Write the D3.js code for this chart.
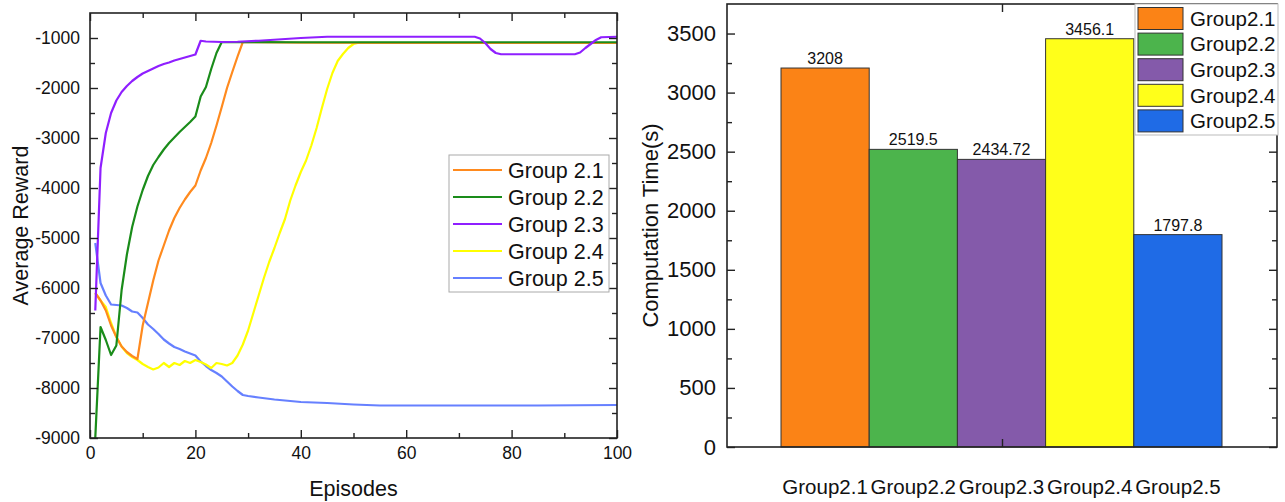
<!DOCTYPE html>
<html>
<head>
<meta charset="utf-8">
<script src="https://cdn.jsdelivr.net/npm/d3@7"></script>
<style>
  html, body { margin: 0; padding: 0; background: #fff; }
  svg { display: block; font-family: "Liberation Sans", Arial, sans-serif; }
</style>
</head>
<body>
<svg id="chart" width="1285" height="502"></svg>
<script>
// ---- Average reward per episode (left panel) ----
const ep21 = [1,2,3,4,5,6,7,8,9,10,11,12,13,14,15,16,17,18,19,20,21,22,23,24,25,26,27,28,29,40,60,80,100];
const val21 = [-6100,-6250,-6450,-6750,-6980,-7170,-7280,-7360,-7420,-6750,-6300,-5850,-5450,-5150,-4850,-4600,-4400,-4230,-4080,-3950,-3650,-3400,-3100,-2750,-2380,-2000,-1680,-1370,-1080,-1095,-1100,-1100,-1100];

const ep22 = [1,2,3,4,5,6,7,8,9,10,11,12,13,14,15,16,17,18,19,20,21,22,23,24,25,40,60,80,100];
const val22 = [-9000,-6780,-7040,-7340,-7150,-6040,-5330,-4780,-4370,-4040,-3760,-3540,-3380,-3230,-3100,-2990,-2880,-2780,-2680,-2570,-2170,-1980,-1620,-1300,-1080,-1085,-1085,-1085,-1085];

const ep23 = [1,2,3,4,5,6,7,8,9,10,11,12,13,14,15,16,17,18,19,20,21,22,25,28,32,40,45,73,74,75,76,77,78,92,93,94,95,96,97,100];
const val23 = [-6450,-3600,-2900,-2500,-2250,-2080,-1960,-1860,-1780,-1710,-1660,-1610,-1560,-1520,-1490,-1450,-1420,-1390,-1360,-1330,-1055,-1070,-1080,-1075,-1055,-1000,-975,-975,-1010,-1100,-1220,-1300,-1325,-1325,-1290,-1200,-1120,-1040,-985,-975];

const ep24 = [1,2,3,4,5,6,7,8,9,10,11,12,13,14,15,16,17,18,19,20,21,22,23,24,25,26,27,28,29,30,31,32,33,34,35,36,37,38,39,40,41,42,43,44,45,46,47,48,49,50,51,70,100];
const val24 = [-6100,-6250,-6380,-6700,-6980,-7170,-7300,-7380,-7440,-7520,-7580,-7630,-7590,-7500,-7580,-7500,-7540,-7460,-7500,-7440,-7480,-7530,-7600,-7500,-7520,-7550,-7500,-7350,-7130,-6850,-6500,-6150,-5800,-5480,-5200,-4900,-4620,-4250,-3950,-3680,-3450,-3150,-2800,-2400,-2020,-1700,-1460,-1320,-1200,-1120,-1095,-1100,-1100];

const ep25 = [1,2,3,4,5,6,7,8,9,10,11,12,13,14,15,16,17,18,19,20,21,22,23,24,25,26,27,28,29,30,32,35,40,45,50,55,70,85,100];
const val25 = [-5100,-5900,-6150,-6330,-6340,-6350,-6400,-6470,-6490,-6600,-6730,-6820,-6920,-7030,-7110,-7180,-7220,-7270,-7310,-7350,-7470,-7560,-7640,-7700,-7770,-7870,-7970,-8060,-8140,-8160,-8190,-8230,-8280,-8300,-8330,-8350,-8350,-8350,-8340];

const lineNames = ["Group 2.1", "Group 2.2", "Group 2.3", "Group 2.4", "Group 2.5"];
const lineColors = ["#ff8a1e", "#1a8c1a", "#8f1fff", "#ffff00", "#6680ff"];
const xTicksL = [0, 20, 40, 60, 80, 100];
const yTicksL = [-9000, -8000, -7000, -6000, -5000, -4000, -3000, -2000, -1000];

// ---- Computation time (right panel) ----
const barGroups = ["Group2.1", "Group2.2", "Group2.3", "Group2.4", "Group2.5"];
const barValues = [3208, 2519.5, 2434.72, 3456.1, 1797.8];
const barLabels = ["3208", "2519.5", "2434.72", "3456.1", "1797.8"];
const barColors = ["#fb8316", "#4cb44c", "#845aaa", "#ffff1a", "#1f6be6"];
const yTicksR = [0, 500, 1000, 1500, 2000, 2500, 3000, 3500];

const svg = d3.select("#chart");
const ink = "#222";
const plainNum = d => String(d);   // plain hyphen for negatives

// ===================== Left panel: line chart =====================
const L = { left: 90, right: 617, top: 13, bottom: 438 };
const xL = d3.scaleLinear().domain([0, 100]).range([L.left, L.right]);
const yL = d3.scaleLinear().domain([-9000, -500]).range([L.bottom, L.top]);

const gL = svg.append("g");

gL.append("defs").append("clipPath").attr("id", "clipL")
  .append("rect").attr("x", L.left).attr("y", L.top)
  .attr("width", L.right - L.left).attr("height", L.bottom - L.top);

const seriesL = [[ep21, val21], [ep22, val22], [ep23, val23], [ep24, val24], [ep25, val25]];
const line = d3.line().x(d => xL(d[0])).y(d => yL(d[1]));

// draw order: blue underneath, then yellow, orange, green, purple on top
const order = [4, 3, 0, 1, 2];
order.forEach(i => {
  const pts = seriesL[i][0].map((e, k) => [e, seriesL[i][1][k]]);
  gL.append("path")
    .attr("clip-path", "url(#clipL)")
    .attr("d", line(pts))
    .attr("fill", "none")
    .attr("stroke", lineColors[i])
    .attr("stroke-width", 2.2)
    .attr("stroke-linejoin", "round");
});

function styleAxis(g, size) {
  g.select(".domain").remove();
  g.selectAll(".tick line").attr("stroke", ink).attr("stroke-width", 1.4);
  g.selectAll(".tick text").attr("fill", "#111").style("font-size", size + "px")
    .style("font-family", '"Liberation Sans", Arial, sans-serif');
}

const xMinorL = d3.range(10, 100, 20);
const yMinorL = d3.range(-8500, -500, 1000);

// bottom
gL.append("g").attr("transform", `translate(0,${L.bottom})`)
  .call(d3.axisBottom(xL).tickValues(xTicksL).tickSize(-8).tickPadding(9).tickFormat(plainNum))
  .call(g => styleAxis(g, 17.5));
gL.append("g").attr("transform", `translate(0,${L.bottom})`)
  .call(d3.axisBottom(xL).tickValues(xMinorL).tickSize(-5).tickFormat(""))
  .call(g => styleAxis(g, 17.5));
// top
gL.append("g").attr("transform", `translate(0,${L.top})`)
  .call(d3.axisTop(xL).tickValues(xTicksL).tickSize(-8).tickFormat(""))
  .call(g => styleAxis(g, 17.5));
gL.append("g").attr("transform", `translate(0,${L.top})`)
  .call(d3.axisTop(xL).tickValues(xMinorL).tickSize(-5).tickFormat(""))
  .call(g => styleAxis(g, 17.5));
// left
gL.append("g").attr("transform", `translate(${L.left},0)`)
  .call(d3.axisLeft(yL).tickValues(yTicksL).tickSize(-8).tickPadding(10).tickFormat(plainNum))
  .call(g => styleAxis(g, 17.5));
gL.append("g").attr("transform", `translate(${L.left},0)`)
  .call(d3.axisLeft(yL).tickValues(yMinorL).tickSize(-5).tickFormat(""))
  .call(g => styleAxis(g, 17.5));
// right
gL.append("g").attr("transform", `translate(${L.right},0)`)
  .call(d3.axisRight(yL).tickValues(yTicksL).tickSize(-8).tickFormat(""))
  .call(g => styleAxis(g, 17.5));
gL.append("g").attr("transform", `translate(${L.right},0)`)
  .call(d3.axisRight(yL).tickValues(yMinorL).tickSize(-5).tickFormat(""))
  .call(g => styleAxis(g, 17.5));

gL.append("rect")
  .attr("x", L.left).attr("y", L.top)
  .attr("width", L.right - L.left).attr("height", L.bottom - L.top)
  .attr("fill", "none").attr("stroke", ink).attr("stroke-width", 1.6);

gL.append("text")
  .attr("x", (L.left + L.right) / 2).attr("y", 496)
  .attr("text-anchor", "middle").attr("fill", "#111")
  .style("font-size", "21.5px").text("Episodes");
gL.append("text")
  .attr("transform", `translate(28,${(L.top + L.bottom) / 2}) rotate(-90)`)
  .attr("text-anchor", "middle").attr("fill", "#111")
  .style("font-size", "21.5px").text("Average Reward");

// legend
const legL = gL.append("g");
legL.append("rect").attr("x", 449).attr("y", 155).attr("width", 160).attr("height", 137)
  .attr("fill", "#fff").attr("stroke", "#aaa").attr("stroke-width", 1);
lineNames.forEach((n, i) => {
  const cy = 170 + i * 27;
  legL.append("line").attr("x1", 453).attr("x2", 502).attr("y1", cy).attr("y2", cy)
    .attr("stroke", lineColors[i]).attr("stroke-width", 2.2);
  legL.append("text").attr("x", 508).attr("y", cy).attr("dy", "0.36em")
    .attr("fill", "#111").style("font-size", "21.5px").text(n);
});

// ===================== Right panel: bar chart =====================
const R = { left: 727, right: 1277, top: 4, bottom: 447 };
const yR = d3.scaleLinear().domain([0, 3750]).range([R.bottom, R.top]);
const xR = d3.scaleBand().domain(barGroups).range([R.left + 54, R.right - 55]).padding(0);

const gR = svg.append("g");

gR.selectAll("rect.bar").data(barValues).enter().append("rect")
  .attr("class", "bar")
  .attr("x", (d, i) => xR(barGroups[i]))
  .attr("y", d => yR(d))
  .attr("width", xR.bandwidth())
  .attr("height", d => yR(0) - yR(d))
  .attr("fill", (d, i) => barColors[i])
  .attr("stroke", "#333").attr("stroke-width", 1);

gR.selectAll("text.val").data(barValues).enter().append("text")
  .attr("class", "val")
  .attr("x", (d, i) => xR(barGroups[i]) + xR.bandwidth() / 2)
  .attr("y", d => yR(d) - 4)
  .attr("text-anchor", "middle").attr("fill", "#111")
  .style("font-size", "16px")
  .text((d, i) => barLabels[i]);

const yMinorR = d3.range(250, 3750, 500);
gR.append("g").attr("transform", `translate(${R.left},0)`)
  .call(d3.axisLeft(yR).tickValues(yTicksR).tickSize(-8).tickPadding(11).tickFormat(plainNum))
  .call(g => styleAxis(g, 22));
gR.append("g").attr("transform", `translate(${R.left},0)`)
  .call(d3.axisLeft(yR).tickValues(yMinorR).tickSize(-5).tickFormat(""))
  .call(g => styleAxis(g, 22));
gR.append("g").attr("transform", `translate(${R.right},0)`)
  .call(d3.axisRight(yR).tickValues(yTicksR).tickSize(-8).tickFormat(""))
  .call(g => styleAxis(g, 22));
gR.append("g").attr("transform", `translate(${R.right},0)`)
  .call(d3.axisRight(yR).tickValues(yMinorR).tickSize(-5).tickFormat(""))
  .call(g => styleAxis(g, 22));

// single category tick at the centre of the bottom and top axes
const xCenter = d3.scaleLinear().domain([0, 1]).range([R.left, R.right]);
gR.append("g").attr("transform", `translate(0,${R.bottom})`)
  .call(d3.axisBottom(xCenter).tickValues([0.5]).tickSize(-8).tickFormat(""))
  .call(g => styleAxis(g, 22));
gR.append("g").attr("transform", `translate(0,${R.top})`)
  .call(d3.axisTop(xCenter).tickValues([0.5]).tickSize(-8).tickFormat(""))
  .call(g => styleAxis(g, 22));

gR.append("rect")
  .attr("x", R.left).attr("y", R.top)
  .attr("width", R.right - R.left).attr("height", R.bottom - R.top)
  .attr("fill", "none").attr("stroke", ink).attr("stroke-width", 1.6);

gR.selectAll("text.cat").data(barGroups).enter().append("text")
  .attr("class", "cat")
  .attr("x", d => xR(d) + xR.bandwidth() / 2)
  .attr("y", 494)
  .attr("text-anchor", "middle").attr("fill", "#111")
  .style("font-size", "20.5px")
  .text(d => d);

gR.append("text")
  .attr("transform", `translate(658,${(R.top + R.bottom) / 2}) rotate(-90)`)
  .attr("text-anchor", "middle").attr("fill", "#111")
  .style("font-size", "22px").text("Computation Time(s)");

// legend
const legR = gR.append("g");
legR.append("rect").attr("x", 1135).attr("y", 4).attr("width", 143).attr("height", 131)
  .attr("fill", "#fff").attr("stroke", "#bbb").attr("stroke-width", 1);
barGroups.forEach((n, i) => {
  const cy = 18.5 + i * 25.6;
  legR.append("rect").attr("x", 1138).attr("y", cy - 11).attr("width", 45).attr("height", 22)
    .attr("fill", barColors[i]).attr("stroke", "#333").attr("stroke-width", 1);
  legR.append("text").attr("x", 1190).attr("y", cy).attr("dy", "0.36em")
    .attr("fill", "#111").style("font-size", "20.5px").text(n);
});
</script>
</body>
</html>
